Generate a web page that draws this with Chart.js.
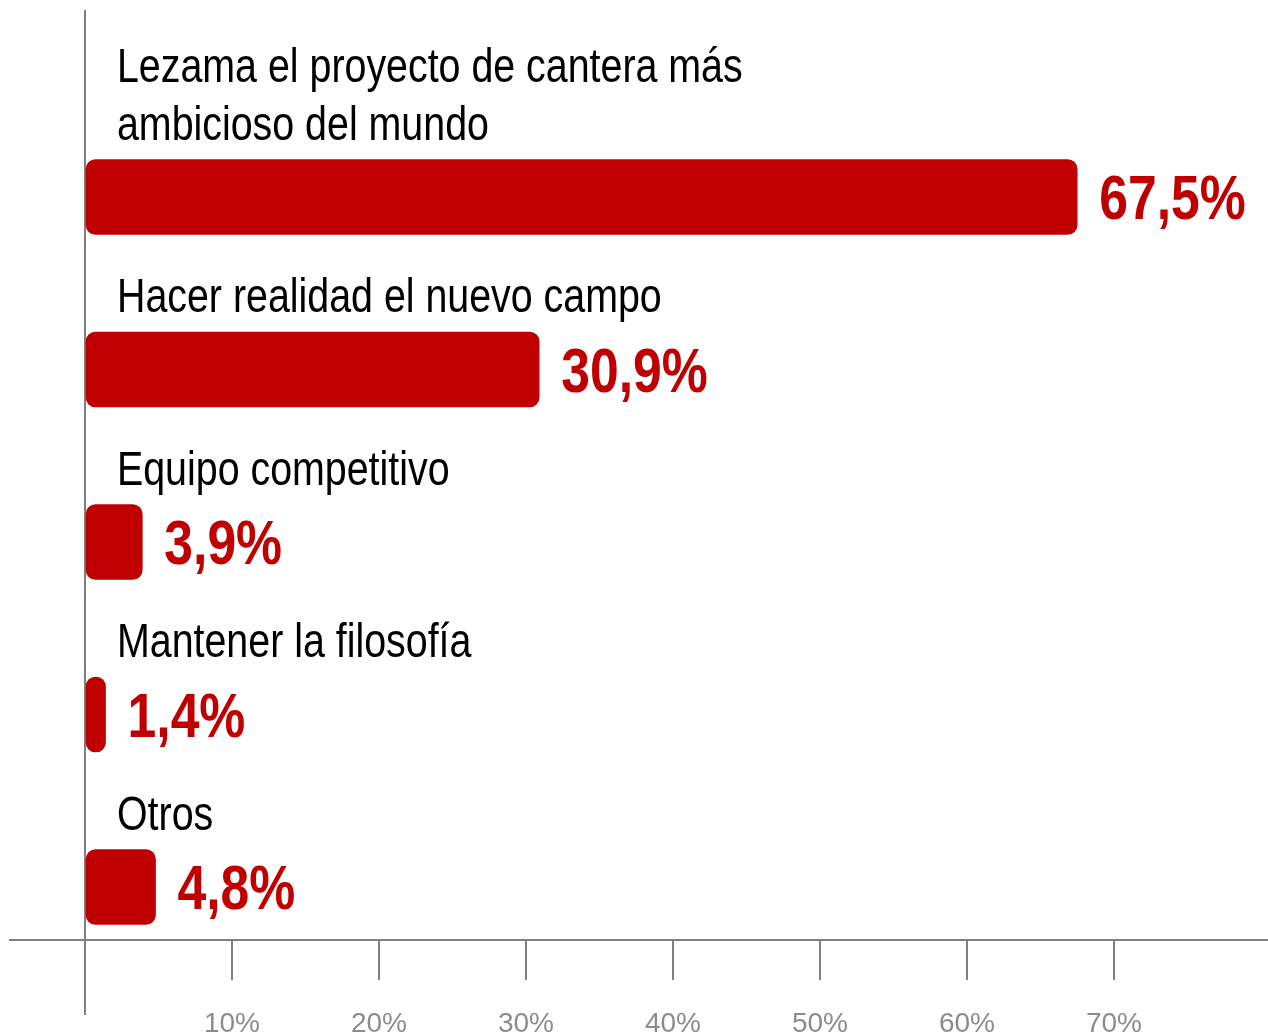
<!DOCTYPE html>
<html lang="es">
<head>
<meta charset="utf-8">
<title>Lezama</title>
<script src="https://cdn.jsdelivr.net/npm/chart.js@4.4.1/dist/chart.umd.min.js"></script>
<style>
  html, body { margin: 0; padding: 0; background: #fff; overflow: hidden; }
  #wrap { width: 1268px; height: 1034px; position: relative; }
</style>
</head>
<body>
<div id="wrap"><canvas id="barChart"></canvas></div>
<script>
// Data --------------------------------------------------------------

const categories = [
  ['Lezama el proyecto de cantera más', 'ambicioso del mundo'],
  'Hacer realidad el nuevo campo',
  'Equipo competitivo',
  'Mantener la filosofía',
  'Otros'
];
const values = [67.5, 30.9, 3.9, 1.4, 4.8];
const valueLabels = ['67,5%', '30,9%', '3,9%', '1,4%', '4,8%'];
const tickValues = [10, 20, 30, 40, 50, 60, 70];
const tickLabels = ['10%', '20%', '30%', '40%', '50%', '60%', '70%'];

// Fonts -------------------------------------------------------------

// the picture uses a narrow face; squeeze the regular one if it's missing
function fontAvailable(name) {
  const c = document.createElement('canvas').getContext('2d');
  const sample = 'Lezama el proyecto 67,5%';
  c.font = '40px monospace';
  const w = c.measureText(sample).width;
  c.font = '40px "' + name + '", monospace';
  return c.measureText(sample).width !== w;
}
const hasNarrow = fontAvailable('Liberation Sans Narrow');
const family = hasNarrow ? '"Liberation Sans Narrow", sans-serif' : '"Liberation Sans", Arial, sans-serif';
const squeeze = hasNarrow ? 1 : 0.82;

const RED = '#c00000';
const GREY = '#808080';

function drawText(ctx, text, x, y, font, color) {
  ctx.save();
  ctx.font = font;
  ctx.fillStyle = color;
  ctx.textAlign = 'left';
  ctx.textBaseline = 'alphabetic';
  ctx.translate(x, y);
  ctx.scale(squeeze, 1);
  ctx.fillText(text, 0, 0);
  ctx.restore();
}

// labels above / beside each bar, plus the bit of zero line under the axis
const barLabels = {
  id: 'barLabels',
  afterDatasetsDraw(chart) {
    const ctx = chart.ctx;
    chart.getDatasetMeta(0).data.forEach((bar, i) => {
      const top = bar.y - bar.height / 2;
      const lines = [].concat(categories[i]);
      lines.forEach((line, j) => {
        const baseline = top - 20 - (lines.length - 1 - j) * 58;
        drawText(ctx, line, bar.base + 31, baseline, '48px ' + family, '#000');
      });
      drawText(ctx, valueLabels[i], bar.x + 22, bar.y + 22, 'bold 63px ' + family, RED);
    });
  },
  afterDraw(chart) {
    const ctx = chart.ctx;
    const area = chart.chartArea;
    const x = Math.round(chart.scales.x.getPixelForValue(0));
    ctx.save();
    ctx.strokeStyle = GREY;
    ctx.lineWidth = 2;
    ctx.beginPath();
    ctx.moveTo(x, area.bottom);
    ctx.lineTo(x, area.bottom + 75);
    ctx.stroke();
    ctx.restore();
  }
};

// Chart -------------------------------------------------------------

const data = {
  datasets: [{
    data: values.map((v, i) => ({ x: v, y: i })),
    backgroundColor: RED,
    borderWidth: 0,
    borderRadius: 10,
    borderSkipped: false,
    barThickness: 75
  }]
};

const config = {
  type: 'bar',
  data,
  options: {
    indexAxis: 'y',
    responsive: true,
    maintainAspectRatio: false,
    animation: false,
    layout: { padding: { left: 10, right: 0, top: 10, bottom: 0 } },
    plugins: { legend: { display: false }, tooltip: { enabled: false } },
    scales: {
      x: {
        type: 'linear',
        min: -5.1,
        max: 80.48,
        afterBuildTicks: (scale) => {
          scale.ticks = [0].concat(tickValues).map(v => ({ value: v }));
        },
        afterFit: (scale) => { scale.height = 94; },
        border: { display: true, color: GREY, width: 2 },
        grid: {
          drawOnChartArea: true,
          color: (c) => (c.tick && c.tick.value === 0 ? GREY : 'rgba(0,0,0,0)'),
          lineWidth: 2,
          tickColor: GREY,
          tickWidth: 2,
          tickLength: 40
        },
        ticks: {
          autoSkip: false,
          maxRotation: 0,
          padding: 27,
          color: '#8c8c8c',
          font: { family: family, size: hasNarrow ? 34 : 28, lineHeight: 1.2 },
          callback: (v) => {
            const k = tickValues.indexOf(v);
            return k < 0 ? '' : tickLabels[k];
          }
        }
      },
      y: {
        type: 'linear',
        display: false,
        reverse: true,
        offset: false,
        grid: { offset: false },
        min: -1.084,
        max: 4.307
      }
    }
  },
  plugins: [barLabels]
};

const barChart = new Chart(document.getElementById('barChart'), config);
</script>
</body>
</html>
